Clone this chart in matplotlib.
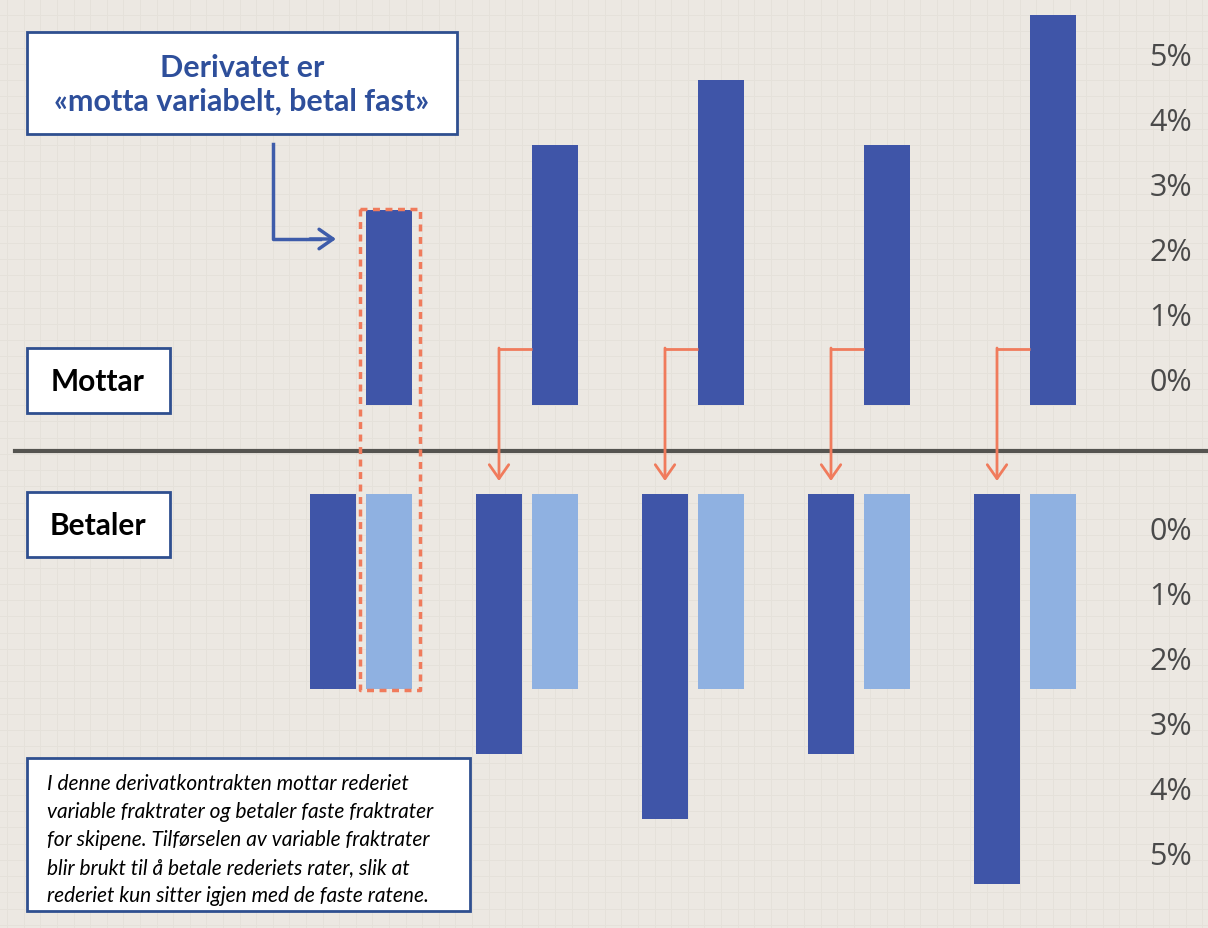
import numpy as np
import matplotlib.pyplot as plt
from matplotlib.patches import Rectangle

# data: bar heights in "percent steps"
mottar = [3, 4, 5, 4, 6]          # variable rates received
betaler_var = [3, 4, 5, 4, 6]     # variable rates paid
betaler_fast = [3, 3, 3, 3, 3]    # fixed rates paid
tick_labels = ['0%', '1%', '2%', '3%', '4%', '5%']

bg = '#ECE8E2'
dark = '#3F55A8'
light = '#8FB1E1'
orange = '#F07B5C'
blue_line = '#3E5CAA'
edge_blue = '#2F4F8F'

W, H = 1208, 929
fig = plt.figure(figsize=(W/100, H/100), dpi=100)
fig.patch.set_facecolor(bg)
ax = fig.add_axes([0, 0, 1, 1])
ax.set_facecolor(bg)

# faint background grid
ax.set_xticks(np.arange(-2.3, 4.95, 0.1))
ax.set_yticks(np.arange(-8.0, 6.2, 0.25))
ax.tick_params(length=0, labelbottom=False, labelleft=False)
ax.grid(True, color='#E5E1DA', lw=0.7)
ax.set_axisbelow(True)
for s in ax.spines.values():
    s.set_visible(False)

# scale: 1 x-unit = 166 px, 1 y-unit = 65 px
x0px, y0px = 389, 406
ax.set_xlim(-x0px/166, (W - x0px)/166)
ax.set_ylim(-(H - y0px)/65, y0px/65)

x = np.arange(len(mottar))
bw = 46/166
off = 56/166
base_bot = -(495 - y0px)/65

# top bars
ax.bar(x, mottar, width=bw, bottom=0, color=dark, zorder=3)
# bottom bars (hanging down)
ax.bar(x - off, -np.array(betaler_var), width=bw, bottom=base_bot, color=dark, zorder=3)
ax.bar(x, -np.array(betaler_fast), width=bw, bottom=base_bot, color=light, zorder=3)

# divider
div_y = -(452 - y0px)/65
ax.plot([(15 - x0px)/166, (W - x0px)/166], [div_y, div_y], color='#555450', lw=3, zorder=4)

# orange arrows from top bars to bottom dark bars
arr_y = (406 - 350)/65
tip_y = -(482 - y0px)/65
for i in range(1, len(mottar)):
    xs = x[i] - bw/2
    xe = x[i] - off
    ax.plot([xs, xe], [arr_y, arr_y], color=orange, lw=2, zorder=4, solid_capstyle='butt')
    ax.annotate('', xy=(xe, tip_y), xytext=(xe, arr_y + 0.015),
                arrowprops=dict(arrowstyle='->,head_length=1.0,head_width=0.7',
                                color=orange, lw=2, shrinkA=0, shrinkB=0), zorder=4)

# dotted box around first fixed/variable pair
bx0, bx1 = (360 - x0px)/166, (420 - x0px)/166
by0, by1 = -(691 - y0px)/65, (406 - 210)/65
ax.plot([bx0, bx1, bx1, bx0, bx0], [by1, by1, by0, by0, by1], color=orange, lw=2.5,
        linestyle=(0, (2, 1.6)), zorder=5)

# blue callout arrow
cx = (273 - x0px)/166
cy = (406 - 240)/65
ax.plot([cx, cx, (320 - x0px)/166], [(406 - 145)/65, cy, cy], color=blue_line, lw=2.5, zorder=4)
ax.annotate('', xy=((336 - x0px)/166, cy), xytext=((310 - x0px)/166, cy),
            arrowprops=dict(arrowstyle='->,head_length=1.0,head_width=0.7',
                            color=blue_line, lw=2.5, shrinkA=0, shrinkB=0), zorder=4)

# right-hand percent labels
for k, lab in enumerate(tick_labels):
    ax.text((1192 - x0px)/166, k + 0.36, lab, ha='right', va='center', fontsize=22,
            color='#4A4A4A', family='Open Sans', zorder=5)
    ax.text((1192 - x0px)/166, -(532 - y0px)/65 - k, lab, ha='right', va='center', fontsize=22,
            color='#4A4A4A', family='Open Sans', zorder=5)

def box(px, py, pw, ph):
    fig.patches.append(Rectangle((px/W, 1 - (py + ph)/H), pw/W, ph/H, transform=fig.transFigure,
                                 facecolor='white', edgecolor=edge_blue, lw=2, zorder=6))

# title box
box(27, 33, 430, 102)
fig.text((27 + 215)/W, 1 - 85/H, 'Derivatet er\n«motta variabelt, betal fast»', ha='center', va='center',
         fontsize=22, fontweight='bold', color='#2E4F9B', family='Lato', linespacing=1.25, zorder=7)

# Mottar / Betaler boxes
box(27, 349, 143, 65)
fig.text(98/W, 1 - 382/H, 'Mottar', ha='center', va='center', fontsize=21.5, fontweight='bold',
         color='black', family='Lato', zorder=7)
box(27, 493, 143, 65)
fig.text(98/W, 1 - 526/H, 'Betaler', ha='center', va='center', fontsize=21.5, fontweight='bold',
         color='black', family='Lato', zorder=7)

# explanation box
box(27, 759, 443, 153)
expl = ('I denne derivatkontrakten mottar rederiet\n'
        'variable fraktrater og betaler faste fraktrater\n'
        'for skipene. Tilførselen av variable fraktrater\n'
        'blir brukt til å betale rederiets rater, slik at\n'
        'rederiet kun sitter igjen med de faste ratene.')
fig.text(47/W, 1 - 840/H, expl, ha='left', va='center', fontsize=15, style='italic',
         color='black', family='Lato', linespacing=1.5, zorder=7)

fig.savefig('out.png', dpi=100, facecolor=bg)
